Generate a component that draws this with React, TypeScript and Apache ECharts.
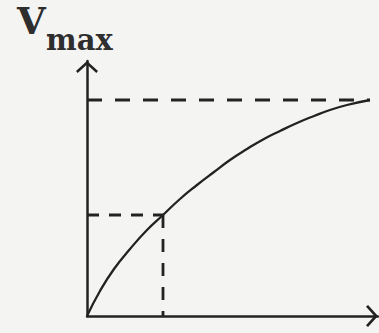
import React, { useEffect, useRef } from "react";
import * as echarts from "echarts";

// Substrate concentration (x) and reaction velocity (y), arbitrary units
const curveX = [0, 13, 27, 43, 60, 76, 93, 110, 127, 143, 160, 177, 193, 210, 227, 243, 260, 283];
const curveY = [0, 25, 47, 67, 86, 101, 117, 131, 144, 156, 167, 177, 185, 193, 200, 206, 211, 216];
const vmax = 216;
const halfV = 101;
const km = 76;
const xEnd = 283;
const xMax = 291;
const yMax = 255;

const INK = "#222222";
const BG = "#f4f4f3";
const ARROW = "path://M11,0 L22,10 L20.3,12 L11,3.6 L1.7,12 L0,10 Z";

export default function App() {
  const ref = useRef<HTMLDivElement>(null);
  useEffect(() => {
    if (!ref.current) return;
    const chart = echarts.init(ref.current, undefined, { renderer: "svg" });
    const axisCommon = {
      type: "value" as const,
      min: 0,
      axisLabel: { show: false },
      axisTick: { show: false },
      splitLine: { show: false },
      axisLine: {
        show: true,
        lineStyle: { color: INK, width: 2.5 },
        symbol: ["none", ARROW],
        symbolSize: [22, 12],
        symbolOffset: [0, -6],
      },
    };
    chart.setOption({
      animation: false,
      backgroundColor: BG,
      grid: { left: 87, top: 61, right: 1, bottom: 17, containLabel: false },
      xAxis: { ...axisCommon, max: xMax },
      yAxis: { ...axisCommon, max: yMax },
      graphic: [
        {
          type: "text",
          x: 17,
          y: 21,
          style: {
            text: "V",
            font: "bold 37px 'DejaVu Serif'",
            fill: "#2e2e2e",
            verticalAlign: "middle",
            align: "left",
          },
        },
        {
          type: "text",
          x: 46,
          y: 40,
          style: {
            text: "max",
            font: "bold 29px 'DejaVu Serif'",
            fill: "#2e2e2e",
            verticalAlign: "middle",
            align: "left",
          },
        },
      ],
      series: [
        {
          name: "Vmax",
          type: "line",
          data: [[0, vmax], [xEnd, vmax]],
          showSymbol: false,
          lineStyle: { color: INK, width: 2.8, type: [15, 13] },
          silent: true,
        },
        {
          name: "half Vmax",
          type: "line",
          data: [[0, halfV], [km, halfV]],
          showSymbol: false,
          lineStyle: { color: INK, width: 2.8, type: [12, 10] },
          silent: true,
        },
        {
          name: "Km",
          type: "line",
          data: [[km, halfV], [km, 0]],
          showSymbol: false,
          lineStyle: { color: INK, width: 2.8, type: [13, 11] },
          silent: true,
        },
        {
          name: "v",
          type: "line",
          data: curveX.map((x, i) => [x, curveY[i]]),
          showSymbol: false,
          smooth: true,
          lineStyle: { color: INK, width: 2.3 },
          silent: true,
        },
      ],
    });
    return () => chart.dispose();
  }, []);
  return (
    <div
      ref={ref}
      style={{ position: "absolute", left: 0, top: 0, width: 379, height: 333, background: BG }}
    />
  );
}
